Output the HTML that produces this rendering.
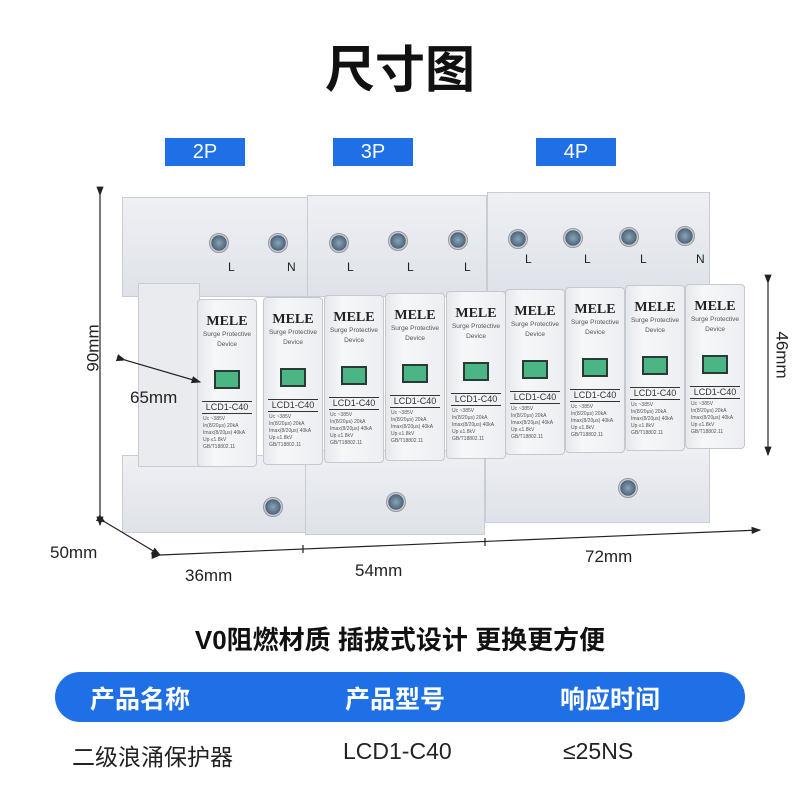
<!DOCTYPE html>
<html><head><meta charset="utf-8"><style>
body{margin:0;width:800px;height:800px;background:#fff;position:relative;overflow:hidden;font-family:"Liberation Sans","Noto Sans CJK SC",sans-serif}
.a{position:absolute}
.tag{position:absolute;top:138px;width:80px;height:28px;background:#1f6fe6;color:#fff;font-size:20px;text-align:center;line-height:28px}
.hous{position:absolute;background:linear-gradient(#eef0f4,#dfe2e8);border:1px solid #c8ccd3;box-sizing:border-box}
.mod{position:absolute;width:60px;background:linear-gradient(90deg,#e6e8ec,#f6f7f9 30%,#eceef1);border:1px solid #c4c8cf;box-sizing:border-box;border-radius:4px;text-align:center;color:#333}
.mod b{display:block;font-family:"Liberation Serif",serif;font-size:14px;margin-top:14px;color:#222}
.mod i{display:block;font-style:normal;font-size:6.5px;line-height:10px;color:#555}
.mod .w{width:22px;height:15px;background:#4bb585;border:2px solid #2a3a34;margin:20px auto 12px}
.mod .m{font-size:9px;white-space:nowrap;border-bottom:1px solid #333;border-top:1px solid #333;margin:0 4px;line-height:11px}
.mod .s{font-size:5px;line-height:7px;text-align:left;padding:2px 5px;color:#555;white-space:nowrap}
.sc{position:absolute;width:18px;height:18px;border-radius:50%;background:radial-gradient(#8aa4b8,#4d6578 60%,#ccd 62%);border:1px solid #999}
.lb{position:absolute;font-size:12px;color:#222;top:260px}
.t{position:absolute;font-size:17px;color:#222}
</style></head><body>
<div class="a" style="left:0;width:800px;top:30px;text-align:center;font-size:50px;font-weight:bold;color:#111">尺寸图</div>
<div class="tag" style="left:165px">2P</div><div class="tag" style="left:333px">3P</div><div class="tag" style="left:536px">4P</div>

<div class="hous" style="left:122px;top:197px;width:186px;height:100px"></div>
<div class="hous" style="left:307px;top:195px;width:180px;height:102px"></div>
<div class="hous" style="left:487px;top:192px;width:223px;height:100px"></div>
<div class="hous" style="left:122px;top:455px;width:184px;height:78px"></div>
<div class="hous" style="left:305px;top:450px;width:180px;height:85px"></div>
<div class="hous" style="left:485px;top:445px;width:225px;height:78px"></div>
<div class="hous" style="left:138px;top:283px;width:62px;height:184px;background:#e9ebee"></div>

<div class="sc" style="left:209px;top:233px"></div><div class="sc" style="left:268px;top:233px"></div>
<div class="sc" style="left:329px;top:233px"></div><div class="sc" style="left:388px;top:231px"></div><div class="sc" style="left:448px;top:230px"></div>
<div class="sc" style="left:508px;top:229px"></div><div class="sc" style="left:563px;top:228px"></div><div class="sc" style="left:619px;top:227px"></div><div class="sc" style="left:675px;top:226px"></div>
<div class="lb" style="left:228px">L</div><div class="lb" style="left:287px">N</div><div class="lb" style="left:347px">L</div><div class="lb" style="left:407px">L</div><div class="lb" style="left:464px">L</div>
<div class="lb" style="left:525px;top:252px">L</div><div class="lb" style="left:584px;top:252px">L</div><div class="lb" style="left:640px;top:252px">L</div><div class="lb" style="left:696px;top:252px">N</div>
<div class="sc" style="left:263px;top:497px"></div><div class="sc" style="left:386px;top:492px"></div><div class="sc" style="left:618px;top:478px"></div>

<div class="mod" style="left:197px;top:299px;height:168px"><b>MELE</b><i>Surge Protective<br>Device</i><div class="w"></div><div class="m">LCD1-C40</div><div class="s">Uc ~385V<br>In(8/20μs) 20kA<br>Imax(8/20μs) 40kA<br>Up ≤1.8kV<br>GB/T18802.11</div></div>
<div class="mod" style="left:263px;top:297px;height:168px"><b>MELE</b><i>Surge Protective<br>Device</i><div class="w"></div><div class="m">LCD1-C40</div><div class="s">Uc ~385V<br>In(8/20μs) 20kA<br>Imax(8/20μs) 40kA<br>Up ≤1.8kV<br>GB/T18802.11</div></div>
<div class="mod" style="left:324px;top:295px;height:168px"><b>MELE</b><i>Surge Protective<br>Device</i><div class="w"></div><div class="m">LCD1-C40</div><div class="s">Uc ~385V<br>In(8/20μs) 20kA<br>Imax(8/20μs) 40kA<br>Up ≤1.8kV<br>GB/T18802.11</div></div>
<div class="mod" style="left:385px;top:293px;height:168px"><b>MELE</b><i>Surge Protective<br>Device</i><div class="w"></div><div class="m">LCD1-C40</div><div class="s">Uc ~385V<br>In(8/20μs) 20kA<br>Imax(8/20μs) 40kA<br>Up ≤1.8kV<br>GB/T18802.11</div></div>
<div class="mod" style="left:446px;top:291px;height:168px"><b>MELE</b><i>Surge Protective<br>Device</i><div class="w"></div><div class="m">LCD1-C40</div><div class="s">Uc ~385V<br>In(8/20μs) 20kA<br>Imax(8/20μs) 40kA<br>Up ≤1.8kV<br>GB/T18802.11</div></div>
<div class="mod" style="left:505px;top:289px;height:166px"><b>MELE</b><i>Surge Protective<br>Device</i><div class="w"></div><div class="m">LCD1-C40</div><div class="s">Uc ~385V<br>In(8/20μs) 20kA<br>Imax(8/20μs) 40kA<br>Up ≤1.8kV<br>GB/T18802.11</div></div>
<div class="mod" style="left:565px;top:287px;height:166px"><b>MELE</b><i>Surge Protective<br>Device</i><div class="w"></div><div class="m">LCD1-C40</div><div class="s">Uc ~385V<br>In(8/20μs) 20kA<br>Imax(8/20μs) 40kA<br>Up ≤1.8kV<br>GB/T18802.11</div></div>
<div class="mod" style="left:625px;top:285px;height:166px"><b>MELE</b><i>Surge Protective<br>Device</i><div class="w"></div><div class="m">LCD1-C40</div><div class="s">Uc ~385V<br>In(8/20μs) 20kA<br>Imax(8/20μs) 40kA<br>Up ≤1.8kV<br>GB/T18802.11</div></div>
<div class="mod" style="left:685px;top:284px;height:165px"><b>MELE</b><i>Surge Protective<br>Device</i><div class="w"></div><div class="m">LCD1-C40</div><div class="s">Uc ~385V<br>In(8/20μs) 20kA<br>Imax(8/20μs) 40kA<br>Up ≤1.8kV<br>GB/T18802.11</div></div>

<svg class="a" style="left:0;top:0" width="800" height="800">
<defs><marker id="ar" markerWidth="8" markerHeight="8" refX="7" refY="4" orient="auto"><path d="M0,1L8,4L0,7z" fill="#222"/></marker></defs>
<g stroke="#222" stroke-width="1.2" fill="none">
<line x1="100" y1="195" x2="100" y2="525" marker-start="url(#ar)" marker-end="url(#ar)"/>
<line x1="768" y1="283" x2="768" y2="455" marker-start="url(#ar)" marker-end="url(#ar)"/>
<line x1="125" y1="360" x2="200" y2="382" marker-start="url(#ar)" marker-end="url(#ar)"/>
<line x1="105" y1="522" x2="160" y2="555" marker-start="url(#ar)" marker-end="url(#ar)"/>
<line x1="160" y1="555" x2="760" y2="530" marker-start="url(#ar)" marker-end="url(#ar)"/>
<line x1="303" y1="545" x2="303" y2="553"/><line x1="485" y1="538" x2="485" y2="546"/>
</g></svg>
<div class="t" style="left:70px;top:338px;transform:rotate(-90deg);transform-origin:center">90mm</div>
<div class="t" style="left:758px;top:345px;transform:rotate(90deg)">46mm</div>
<div class="t" style="left:130px;top:388px">65mm</div>
<div class="t" style="left:50px;top:543px">50mm</div>
<div class="t" style="left:185px;top:566px">36mm</div>
<div class="t" style="left:355px;top:561px">54mm</div>
<div class="t" style="left:585px;top:547px">72mm</div>

<div class="a" style="left:0;width:800px;top:620px;text-align:center;font-size:26px;font-weight:bold;color:#111">V0阻燃材质 插拔式设计 更换更方便</div>
<div class="a" style="left:55px;top:672px;width:690px;height:50px;border-radius:25px;background:#1f6fe6"></div>
<div class="a" style="left:90px;top:680px;font-size:25px;color:#fff;font-weight:bold">产品名称</div>
<div class="a" style="left:345px;top:680px;font-size:25px;color:#fff;font-weight:bold">产品型号</div>
<div class="a" style="left:560px;top:680px;font-size:25px;color:#fff;font-weight:bold">响应时间</div>
<div class="a" style="left:72px;top:738px;font-size:23px;color:#222">二级浪涌保护器</div>
<div class="a" style="left:343px;top:738px;font-size:23px;color:#222">LCD1-C40</div>
<div class="a" style="left:563px;top:738px;font-size:23px;color:#222">≤25NS</div>
</body></html>
